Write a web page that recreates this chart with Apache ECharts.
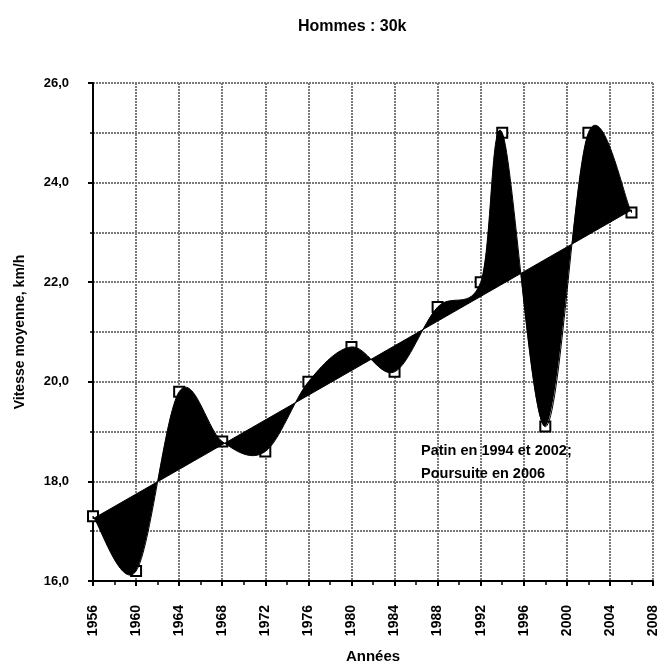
<!DOCTYPE html>
<html>
<head>
<meta charset="utf-8">
<script src="https://cdn.jsdelivr.net/npm/echarts@6/dist/echarts.min.js"></script>
<style>html,body{margin:0;padding:0;background:#fff;}#c{width:660px;height:669px;}</style>
</head>
<body>
<div id="c"></div>
<script>
const years = [1956,1960,1964,1968,1972,1976,1980,1984,1988,1992,1994,1998,2002,2006];
const speeds = [17.3,16.2,19.8,18.8,18.6,20.0,20.7,20.2,21.5,22.0,25.0,19.1,25.0,23.4];
const trendYears = [1956, 2006];
const trendSpeeds = [17.25, 23.45];
const titleText = 'Hommes : 30k';
const noteLines = ['Patin en 1994 et 2002;', 'Poursuite en 2006'];

const FONT = '"Liberation Sans", Arial, sans-serif';
const chart = echarts.init(document.getElementById('c'), null, {renderer: 'canvas'});

function renderBand(params, api) {
  if (params.dataIndex !== 0) return;
  const p = years.map((y, i) => api.coord([y, speeds[i]]));
  const n = p.length;
  let d = 'M' + p[0][0] + ' ' + p[0][1];
  for (let i = 0; i < n - 1; i++) {
    const p0 = p[Math.max(i - 1, 0)], p1 = p[i], p2 = p[i + 1], p3 = p[Math.min(i + 2, n - 1)];
    const c1 = [p1[0] + (p2[0] - p0[0]) / 6, p1[1] + (p2[1] - p0[1]) / 6];
    const c2 = [p2[0] - (p3[0] - p1[0]) / 6, p2[1] - (p3[1] - p1[1]) / 6];
    d += ' C' + c1[0] + ' ' + c1[1] + ' ' + c2[0] + ' ' + c2[1] + ' ' + p2[0] + ' ' + p2[1];
  }
  const t0 = api.coord([trendYears[0], trendSpeeds[0]]);
  const t1 = api.coord([trendYears[1], trendSpeeds[1]]);
  d += ' L' + t1[0] + ' ' + t1[1] + ' L' + t0[0] + ' ' + t0[1] + ' Z';
  return {
    type: 'path',
    shape: {pathData: d},
    style: {fill: '#000', stroke: '#000', lineWidth: 1}
  };
}

const gridLine = {show: true, lineStyle: {color: '#7a7a7a', width: 2, type: [2, 1]}};

chart.setOption({
  animation: false,
  backgroundColor: '#fff',
  title: {
    text: titleText, left: 293, top: 14,
    textStyle: {fontFamily: FONT, fontSize: 16, fontWeight: 'bold', color: '#000'}
  },
  grid: {left: 93, right: 7, top: 83, bottom: 86, containLabel: false},
  xAxis: {
    type: 'value', min: 1956, max: 2008, interval: 4,
    name: 'Années', nameLocation: 'middle', nameGap: 68,
    nameTextStyle: {fontFamily: FONT, fontSize: 15, fontWeight: 'bold', color: '#000'},
    axisLine: {show: true, onZero: false, lineStyle: {color: '#000', width: 2}},
    axisTick: {show: true, length: 5, lineStyle: {color: '#000', width: 2}},
    minorTick: {show: true, splitNumber: 2, length: 4, lineStyle: {color: '#000', width: 1.5}},
    axisLabel: {rotate: 90, margin: 24, fontFamily: FONT, fontSize: 14, fontWeight: 'bold', color: '#000',
      formatter: v => String(v)},
    splitLine: gridLine
  },
  yAxis: {
    type: 'value', min: 16, max: 26, interval: 2,
    name: 'Vitesse moyenne, km/h', nameLocation: 'middle', nameGap: 66,
    nameTextStyle: {fontFamily: FONT, fontSize: 14, fontWeight: 'bold', color: '#000'},
    axisLine: {show: true, lineStyle: {color: '#000', width: 2}},
    axisTick: {show: true, length: 5, lineStyle: {color: '#000', width: 2}},
    minorTick: {show: true, splitNumber: 2, length: 3, lineStyle: {color: '#000', width: 1.5}},
    minorSplitLine: gridLine,
    axisLabel: {margin: 24, fontFamily: FONT, fontSize: 13, fontWeight: 'bold', color: '#000',
      formatter: v => v.toFixed(1).replace('.', ',')},
    splitLine: gridLine
  },
  graphic: [{
    type: 'text', left: 421, top: 439, z: 100,
    style: {text: noteLines.join('\n'), font: 'bold 14.5px ' + FONT, fill: '#000', lineHeight: 23}
  }],
  series: [
    {
      type: 'scatter', z: 2,
      data: years.map((y, i) => [y, speeds[i]]),
      symbol: 'rect', symbolSize: 10,
      itemStyle: {color: '#fff', borderColor: '#000', borderWidth: 2, opacity: 1}
    },
    {
      type: 'custom', z: 3,
      coordinateSystem: 'cartesian2d',
      data: [[years[0], speeds[0]]],
      renderItem: renderBand,
      silent: true
    }
  ]
});
</script>
</body>
</html>
